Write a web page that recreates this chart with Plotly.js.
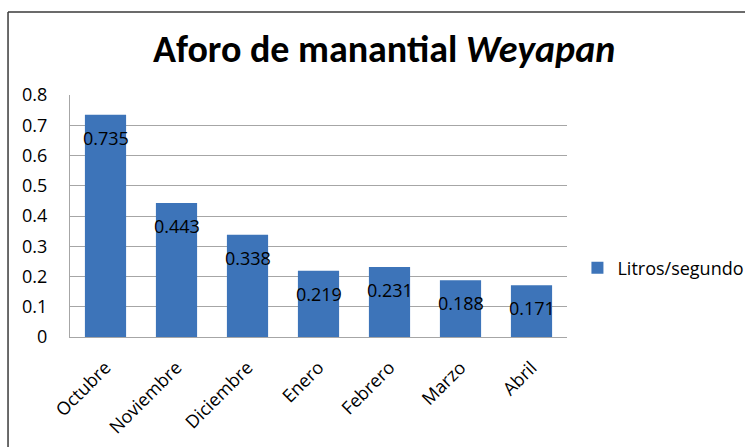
<!DOCTYPE html>
<html>
<head>
<meta charset="utf-8">
<script src="https://cdn.plot.ly/plotly-3.0.1.min.js"></script>
<style>html,body{margin:0;padding:0;background:#fff;}#chart{width:745px;height:447px;}</style>
</head>
<body>
<div id="chart"></div>
<script>
var months = ["Octubre", "Noviembre", "Diciembre", "Enero", "Febrero", "Marzo", "Abril"];
var flows = [0.735, 0.443, 0.338, 0.219, 0.231, 0.188, 0.171];
var flowLabels = ["0.735", "0.443", "0.338", "0.219", "0.231", "0.188", "0.171"];
var seriesName = "Litros/segundo";
var yTicks = [0, 0.1, 0.2, 0.3, 0.4, 0.5, 0.6, 0.7, 0.8];

var TITLEFONT = "Carlito, Calibri, 'Open Sans', sans-serif";
var FONT = "'Open Sans', sans-serif";

var trace = {
  type: "bar",
  x: months,
  y: flows,
  name: seriesName,
  marker: {color: "#3d74b9", line: {width: 0}},
  showlegend: true,
  hoverinfo: "x+y"
};

var annotations = months.map(function (m, i) {
  return {
    x: m, y: flows[i], xref: "x", yref: "y",
    text: flowLabels[i], showarrow: false,
    yshift: -23,
    font: {family: FONT, size: 18, color: "#000"}
  };
});

var layout = {
  width: 745, height: 447,
  margin: {l: 70, r: 178, t: 95, b: 110, autoexpand: false},
  paper_bgcolor: "#fff", plot_bgcolor: "#fff",
  font: {family: FONT, color: "#000"},
  title: {
    text: "Aforo de manantial <i>Weyapan</i>",
    font: {family: TITLEFONT, size: 38, weight: "bold", color: "#000"},
    x: 0.632, xanchor: "center", xref: "paper",
    y: 0.892, yanchor: "middle", yref: "container"
  },
  bargap: 0.42,
  xaxis: {
    type: "category",
    tickangle: -45,
    tickfont: {family: FONT, size: 18, color: "#000"},
    showline: true, linecolor: "#a6a6a6", linewidth: 1,
    ticks: "", showgrid: false, zeroline: false,
    ticklabelstandoff: 12,
    fixedrange: true
  },
  yaxis: {
    range: [0, 0.8],
    tickvals: yTicks,
    ticktext: yTicks.map(function (v) { return String(v); }),
    tickfont: {family: FONT, size: 18, color: "#000"},
    showline: true, linecolor: "#a6a6a6", linewidth: 1,
    showgrid: true, gridcolor: "#a6a6a6", gridwidth: 1,
    zeroline: false, ticks: "", ticklabelstandoff: 18,
    fixedrange: true
  },
  legend: {
    x: 1.021, xanchor: "left", y: 0.285, yanchor: "middle",
    font: {family: FONT, size: 18, color: "#000"},
    bgcolor: "rgba(0,0,0,0)", borderwidth: 0
  },
  annotations: annotations,
  shapes: [
    {type: "line", xref: "paper", yref: "paper",
     x0: -0.1247, x1: 1.6, y0: 1.343, y1: 1.343,
     line: {color: "#3a3a3a", width: 1.5}},
    {type: "line", xref: "paper", yref: "paper",
     x0: -0.1247, x1: -0.1247, y0: 1.343, y1: -0.5,
     line: {color: "#3a3a3a", width: 1.5}}
  ]
};

Plotly.newPlot("chart", [trace], layout, {displayModeBar: false, staticPlot: true});
</script>
</body>
</html>
